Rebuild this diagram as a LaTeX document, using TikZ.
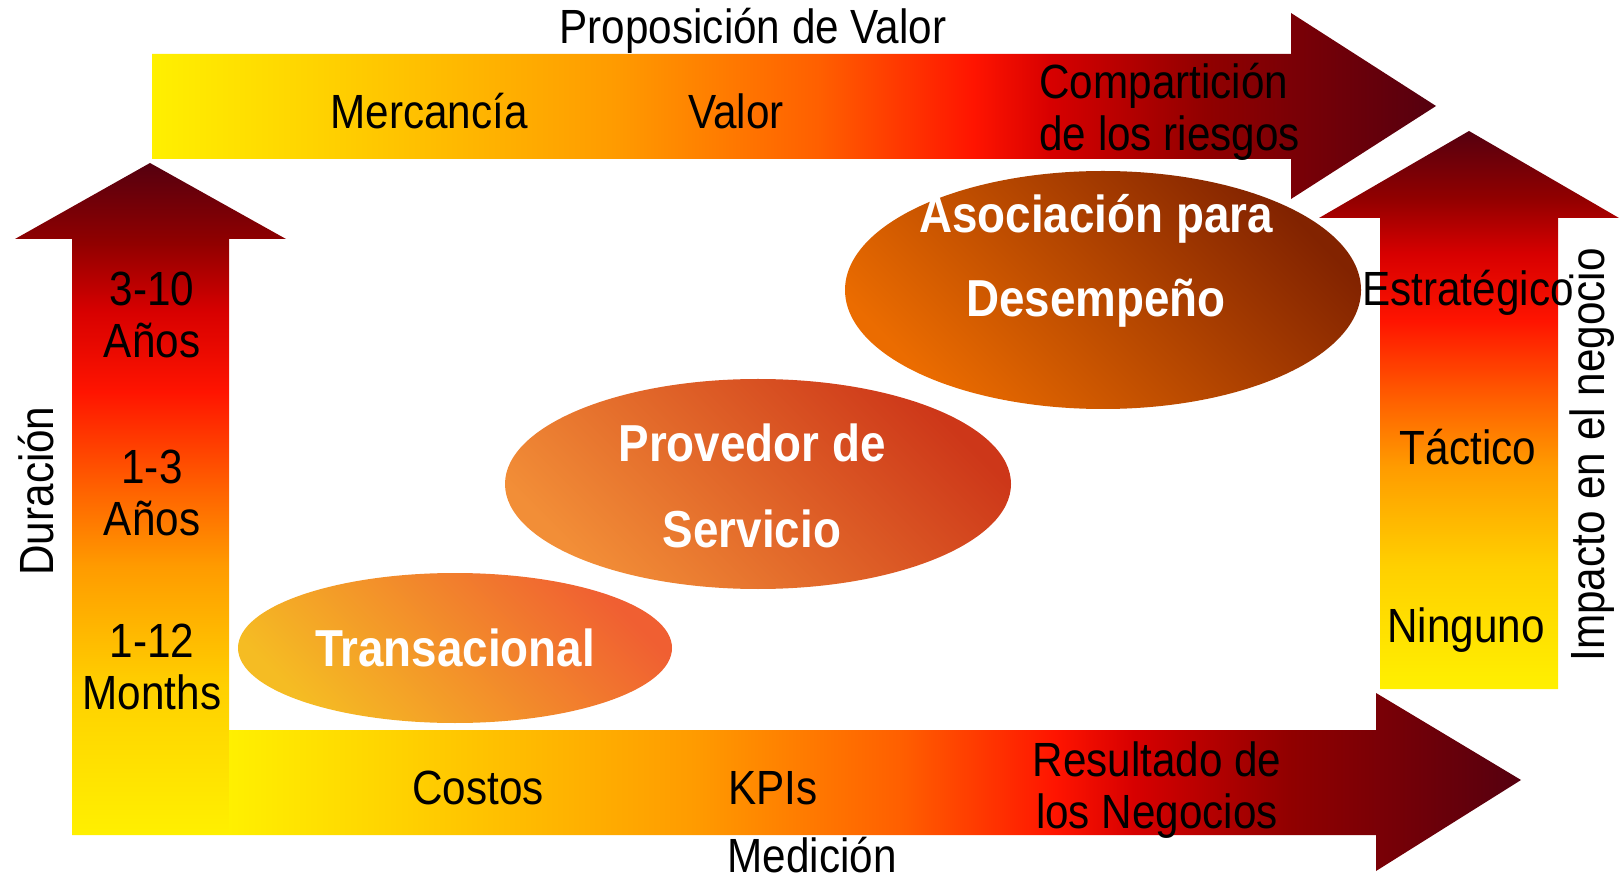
\documentclass[tikz,border=0pt]{standalone}
\usepackage{fontspec}
\setmainfont[FakeStretch=0.88]{Liberation Sans}
\usetikzlibrary{shapes.geometric}
\definecolor{yel}{RGB}{255,240,0}
\definecolor{gold}{RGB}{255,208,0}
\definecolor{org}{RGB}{255,155,0}
\definecolor{dorg}{RGB}{255,95,0}
\definecolor{redA}{RGB}{255,20,0}
\definecolor{redB}{RGB}{215,0,0}
\definecolor{dred}{RGB}{145,0,0}
\definecolor{ddred}{RGB}{85,0,15}
\pgfdeclarehorizontalshading{valorshade}{100bp}{color(0bp)=(yel); color(25bp)=(yel); color(32bp)=(gold); color(43bp)=(org); color(51bp)=(dorg); color(57bp)=(redA); color(60bp)=(redB); color(66bp)=(dred); color(75bp)=(ddred); color(100bp)=(ddred)}
\pgfdeclareverticalshading{impactshade}{100bp}{color(0bp)=(yel); color(25bp)=(yel); color(36bp)=(gold); color(45bp)=(org); color(51bp)=(dorg); color(58bp)=(redA); color(64bp)=(redB); color(69bp)=(dred); color(75bp)=(ddred); color(100bp)=(ddred)}
\begin{document}
\begin{tikzpicture}[x=0.5pt, y=-0.5pt,
    lbl/.style={font=\fontsize{24}{26}\selectfont, align=center, inner sep=0pt},
    blob/.style={ellipse, inner sep=0pt, shading angle=-45},
    blobtext/.style={font=\bfseries\fontsize{26}{43}\selectfont, text=white, align=center, inner sep=0pt}]
  \useasboundingbox (0,0) rectangle (1621,881);
  % the four arrows
  \shade[shading=valorshade] (152,54) -- (1291,54) -- (1291,13) -- (1436,106) -- (1291,199) -- (1291,159) -- (152,159) -- cycle;
  \shade[shading=impactshade] (72,835) -- (72,239) -- (15,239) -- (150,163) -- (286,239) -- (229,239) -- (229,835) -- cycle;
  \shade[shading=valorshade] (229,730) -- (1376,730) -- (1376,693) -- (1521,780) -- (1376,871) -- (1376,835) -- (229,835) -- cycle;
  \shade[shading=impactshade] (1380,689) -- (1380,218) -- (1319,218) -- (1469,131) -- (1619,218) -- (1558,218) -- (1558,689) -- cycle;
  % relationship stages
  \node[blob, top color={rgb,255:red,240;green,95;blue,50}, bottom color={rgb,255:red,245;green,188;blue,35}, shading angle=-45, minimum width=217pt, minimum height=75pt] (trans) at (455,648) {};
  \node[blob, top color={rgb,255:red,205;green,55;blue,25}, bottom color={rgb,255:red,242;green,142;blue,55}, shading angle=-45, minimum width=253pt, minimum height=105pt] (prov) at (758,484) {};
  \node[blob, top color={rgb,255:red,130;green,35;blue,0}, bottom color={rgb,255:red,235;green,108;blue,0}, shading angle=-45, minimum width=258pt, minimum height=119pt] (asoc) at (1103,290) {};
  \node[blobtext] (transtxt) at (455,648) {Transacional};
  \node[blobtext] (provtxt) at (752,486) {Provedor de\\Servicio};
  \node[blobtext, font=\bfseries\fontsize{26}{42}\selectfont] (asoctxt) at (1096,261) {Asociación para\\Desempeño};
  % labels on the arrows
  \node[lbl] (valor) at (753,31) {Proposición de Valor};
  \node[lbl] (merc) at (429,111) {Mercancía};
  \node[lbl] (val) at (736,111) {Valor};
  \node[lbl, align=left, anchor=west] (comp) at (1039,112) {Compartición\\de los riesgos};
  \node[lbl] (med) at (812,855) {Medición};
  \node[lbl] (cost) at (478,788) {Costos};
  \node[lbl] (kpi) at (773,788) {KPIs};
  \node[lbl] (res) at (1157,790) {Resultado de\\los Negocios};
  \node[lbl, rotate=90] (dur) at (36,491) {Duración};
  \node[lbl] (d1) at (152,315) {3-10\\Años};
  \node[lbl] (d2) at (152,493) {1-3\\Años};
  \node[lbl] (d3) at (152,667) {1-12\\Months};
  \node[lbl, rotate=90] (imp) at (1592,455) {Impacto en el negocio};
  \node[lbl] (est) at (1468,293) {Estratégico};
  \node[lbl] (tac) at (1468,447) {Táctico};
  \node[lbl] (nin) at (1466,630) {Ninguno};
\end{tikzpicture}
\end{document}
